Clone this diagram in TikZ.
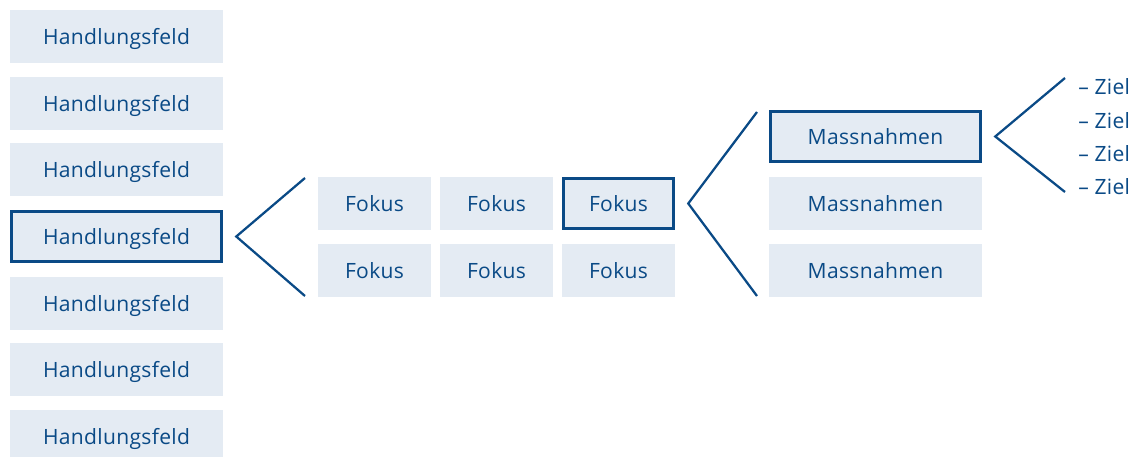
\documentclass[tikz,border=0pt]{standalone}
\usepackage{fontspec}
\setmainfont{Open Sans}[LetterSpace=1.5]
\usetikzlibrary{calc}
\definecolor{boxfill}{HTML}{E4EBF3}
\definecolor{darkblue}{HTML}{0A4A86}
\tikzset{
    feld/.style={fill=boxfill, text=darkblue, inner sep=0pt,
        minimum width=159.75pt, minimum height=39.75pt, text depth=0pt,
        font=\fontsize{15.8}{18}\selectfont},
    fokusbox/.style={feld, minimum width=84.75pt},
    chosen/.style={draw=darkblue, line width=1.9pt},
    chevron/.style={draw=darkblue, line width=1.7pt, line join=miter},
    zieltext/.style={text=darkblue, inner sep=0pt, anchor=west,
        font=\fontsize{15.8}{18}\selectfont}
}
\begin{document}
\begin{tikzpicture}[x=0.75pt, y=-0.75pt]
    \useasboundingbox (0,0) rectangle (1136,457);
    % Handlungsfelder
    \foreach \i in {1,...,7} {
        \node[feld] (hf\i) at (116.5, 36.5+66.67*\i-66.67) {Handlungsfeld};
    };
    \node[feld, chosen, minimum width=157.85pt, minimum height=37.85pt] at (hf4) {Handlungsfeld};
    % Fokus
    \foreach \c [count=\j] in {374.5, 496.5, 618.5} {
        \node[fokusbox] (fok1\j) at (\c, 203.5) {Fokus};
        \node[fokusbox] (fok2\j) at (\c, 270.5) {Fokus};
    };
    \node[fokusbox, chosen, minimum width=82.85pt, minimum height=37.85pt] at (fok13) {Fokus};
    % Massnahmen
    \foreach \r [count=\j] in {136.5, 203.5, 270.5} {
        \node[feld] (mas\j) at (875.5, \r) {Massnahmen};
    };
    \node[feld, chosen, minimum width=157.85pt, minimum height=37.85pt] at (mas1) {Massnahmen};
    % Ziele
    \foreach \r [count=\j] in {87, 120.3, 153.7, 187} {
        \node[zieltext] (ziel\j) at (1078, \r) {– Ziel};
    };
    % chevrons
    \coordinate (fok-top) at (305,178);
    \coordinate (fok-bot) at (305,296);
    \coordinate (mas-top) at (757,112);
    \coordinate (mas-bot) at (757,296);
    \coordinate (ziel-top) at (1065,78);
    \coordinate (ziel-bot) at (1065,192);
    \draw[chevron] (fok-top) -- ($(hf4.east)+(13,0)$) -- (fok-bot);
    \draw[chevron] (mas-top) -- ($(fok13.east)+(13,0)$) -- (mas-bot);
    \draw[chevron] (ziel-top) -- ($(mas1.east)+(13,0)$) -- (ziel-bot);
\end{tikzpicture}
\end{document}
